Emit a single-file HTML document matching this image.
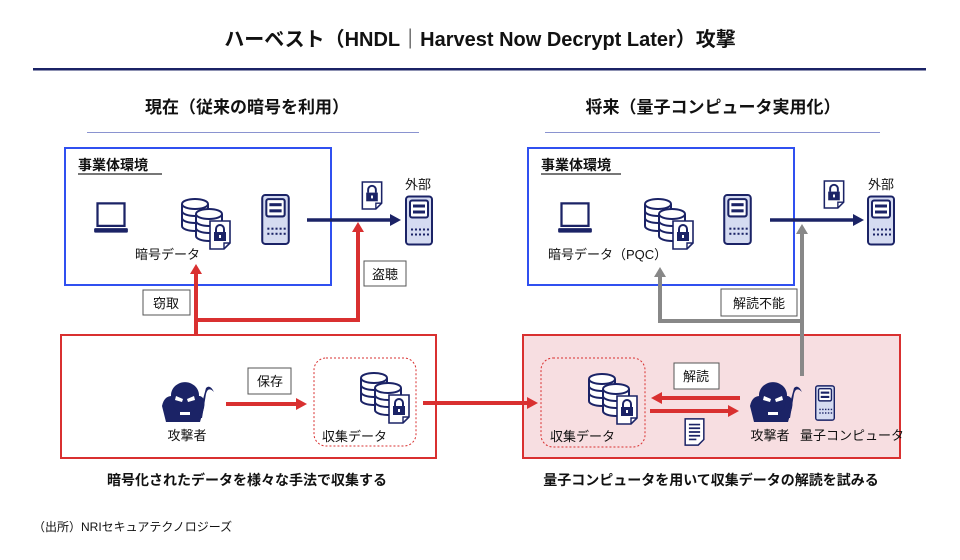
<!DOCTYPE html>
<html><head><meta charset="utf-8"><style>
html,body{margin:0;padding:0;background:#fff}
svg{display:block;font-family:"Liberation Sans","Noto Sans CJK JP",sans-serif}
</style></head><body>
<svg width="960" height="560" viewBox="0 0 960 560" xmlns="http://www.w3.org/2000/svg">
<defs>
<symbol id="srv" viewBox="0 0 28 50">
<rect x="1" y="1" width="26" height="48" rx="3" fill="#d5dbf1" stroke="#1b2366" stroke-width="2"/>
<rect x="5" y="5" width="18" height="17" rx="2" fill="#fff" stroke="#1b2366" stroke-width="2"/>
<rect x="8" y="9" width="12" height="3" fill="#1b2366"/><rect x="8" y="15" width="12" height="3" fill="#1b2366"/>
<g fill="#1b2366"><rect x="6" y="33" width="2" height="2"/><rect x="10" y="33" width="2" height="2"/><rect x="14" y="33" width="2" height="2"/><rect x="18" y="33" width="2" height="2"/><rect x="22" y="33" width="2" height="2"/>
<rect x="6" y="38" width="2" height="2"/><rect x="10" y="38" width="2" height="2"/><rect x="14" y="38" width="2" height="2"/><rect x="18" y="38" width="2" height="2"/><rect x="22" y="38" width="2" height="2"/></g>
</symbol>
<symbol id="cyl" viewBox="0 0 28 34">
<path d="M1 6 V28 A13 5 0 0 0 27 28 V6" fill="#fff" stroke="#1b2366" stroke-width="2"/>
<ellipse cx="14" cy="6" rx="13" ry="5" fill="#fff" stroke="#1b2366" stroke-width="2"/>
<path d="M1 13 A13 5 0 0 0 27 13 M1 20 A13 5 0 0 0 27 20" fill="none" stroke="#1b2366" stroke-width="2"/>
</symbol>
<symbol id="lockdoc" viewBox="0 0 22 30">
<path d="M1 1 H21 V23 L15 29 H1 Z" fill="#fff" stroke="#1b2366" stroke-width="1.6"/>
<path d="M15 29 V23 H21" fill="none" stroke="#1b2366" stroke-width="1.4"/>
<path d="M7 12 V9 A4 4 0 0 1 15 9 V12" fill="none" stroke="#1b2366" stroke-width="2"/>
<rect x="5" y="12" width="12" height="9" fill="#1b2366"/><rect x="10" y="15" width="2" height="3" fill="#fff"/>
</symbol>
<symbol id="db" viewBox="0 0 50 52">
<use href="#cyl" x="0" y="0" width="28" height="34"/>
<use href="#cyl" x="14" y="10" width="28" height="34"/>
<use href="#lockdoc" x="28" y="22" width="22" height="30"/>
</symbol>
<symbol id="laptop" viewBox="0 0 32 30">
<rect x="4" y="2" width="24" height="20" fill="#fff" stroke="#1b2366" stroke-width="2"/>
<rect x="1" y="24" width="30" height="4" rx="1" fill="#1b2366"/>
</symbol>
<symbol id="atk" viewBox="0 0 54 40">
<path d="M2 24 Q4 14 12 14 L40 14 Q46 16 44 26 L40 40 H6 Z" fill="#1b2366"/>
<path d="M12 18 A14 13 0 1 1 38 18 L36 26 L32 30 V36 H18 V30 L14 26 Z" fill="#1b2366"/>
<path d="M16 14 L23 17 L22 20 L15 18Z M34 14 L27 17 L28 20 L35 18Z" fill="#fff"/>
<rect x="20" y="30" width="10" height="3" fill="#fff"/>
<path d="M38 36 L46 6 Q50 2 54 10 Q48 4 46 12 L42 36Z" fill="#1b2366"/>
</symbol>
<symbol id="doc" viewBox="0 0 22 30">
<path d="M1 1 H21 V23 L15 29 H1 Z" fill="#fff" stroke="#1b2366" stroke-width="1.6"/>
<g stroke="#1b2366" stroke-width="1.8"><path d="M5 7H17M5 11H17M5 15H17M5 19H17M5 23H13"/></g>
</symbol>
</defs>

<text x="480" y="46" text-anchor="middle" font-size="20" font-weight="bold" fill="#111">ハーベスト（HNDL｜Harvest Now Decrypt Later）攻撃</text>
<rect x="33" y="68" width="893" height="2.5" fill="#1b2366"/>

<text x="247" y="113" text-anchor="middle" font-size="17" font-weight="bold" fill="#111">現在（従来の暗号を利用）</text>
<rect x="87" y="132" width="332" height="1" fill="#8a93d0"/>
<text x="713" y="113" text-anchor="middle" font-size="17" font-weight="bold" fill="#111">将来（量子コンピュータ実用化）</text>
<rect x="545" y="132" width="335" height="1" fill="#8a93d0"/>

<!-- left -->
<rect x="65" y="148" width="266" height="137" fill="#fff" stroke="#3050f0" stroke-width="2"/>
<text x="78" y="170" font-size="14" font-weight="bold" fill="#111">事業体環境</text>
<rect x="78" y="173" width="84" height="2" fill="#777"/>
<use href="#laptop" x="93" y="201" width="36" height="34"/>
<use href="#db" x="181" y="198" width="50" height="52"/>
<text x="135" y="259" font-size="13" fill="#111">暗号データ</text>
<use href="#srv" x="261" y="194" width="29" height="51"/>
<path d="M307 220 H392" stroke="#1b2366" stroke-width="3.5"/><path d="M390 214 L401 220 L390 226Z" fill="#1b2366"/>
<use href="#lockdoc" x="361" y="181" width="22" height="29"/>
<text x="405" y="189" font-size="13" fill="#111">外部</text>
<use href="#srv" x="405" y="195" width="28" height="51"/>

<g fill="none" stroke="#d93030" stroke-width="4">
<path d="M196 375 V272"/><path d="M196 320 H358 V230"/></g>
<path d="M190 274 L196 264 L202 274Z M352 232 L358 222 L364 232Z" fill="#d93030"/>
<rect x="143" y="290" width="47" height="25" fill="#fff" stroke="#555"/><text x="166" y="308" text-anchor="middle" font-size="13" fill="#111">窃取</text>
<rect x="364" y="261" width="42" height="25" fill="#fff" stroke="#555"/><text x="385" y="279" text-anchor="middle" font-size="13" fill="#111">盗聴</text>

<rect x="61" y="335" width="375" height="123" fill="#fff" stroke="#d93030" stroke-width="2"/>
<use href="#atk" x="160" y="382" width="54" height="40"/>
<text x="187" y="440" text-anchor="middle" font-size="13" fill="#111">攻撃者</text>
<path d="M226 404 H298" stroke="#d93030" stroke-width="4"/><path d="M296 398 L307 404 L296 410Z" fill="#d93030"/>
<rect x="248" y="368" width="43" height="26" fill="#fff" stroke="#555"/><text x="270" y="386" text-anchor="middle" font-size="13" fill="#111">保存</text>
<rect x="314" y="358" width="102" height="88" rx="12" fill="#fff" stroke="#d93030" stroke-dasharray="2 2"/>
<use href="#db" x="360" y="372" width="50" height="52"/>
<text x="322" y="441" font-size="13" fill="#111">収集データ</text>

<!-- right -->
<rect x="528" y="148" width="266" height="137" fill="#fff" stroke="#3050f0" stroke-width="2"/>
<text x="541" y="170" font-size="14" font-weight="bold" fill="#111">事業体環境</text>
<rect x="541" y="173" width="80" height="2" fill="#777"/>
<use href="#laptop" x="557" y="201" width="36" height="34"/>
<use href="#db" x="644" y="198" width="50" height="52"/>
<text x="548" y="259" font-size="13" fill="#111">暗号データ（PQC）</text>
<use href="#srv" x="723" y="194" width="29" height="51"/>
<path d="M770 220 H855" stroke="#1b2366" stroke-width="3.5"/><path d="M853 214 L864 220 L853 226Z" fill="#1b2366"/>
<use href="#lockdoc" x="823" y="180" width="22" height="29"/>
<text x="868" y="189" font-size="13" fill="#111">外部</text>
<use href="#srv" x="867" y="195" width="28" height="51"/>

<rect x="523" y="335" width="377" height="123" fill="#f7dee1" stroke="#d93030" stroke-width="2"/>
<path d="M423 403 H528" stroke="#d93030" stroke-width="4"/><path d="M527 397 L538 403 L527 409Z" fill="#d93030"/>
<g fill="none" stroke="#888" stroke-width="4"><path d="M802 376 V232"/><path d="M802 321 H660 V275"/></g>
<path d="M796 234 L802 224 L808 234Z M654 277 L660 267 L666 277Z" fill="#888"/>
<rect x="721" y="289" width="76" height="27" fill="#fff" stroke="#555"/><text x="759" y="308" text-anchor="middle" font-size="13" fill="#111">解読不能</text>

<rect x="541" y="358" width="104" height="89" rx="12" fill="#f7dee1" stroke="#d93030" stroke-dasharray="2 2"/>
<use href="#db" x="588" y="373" width="50" height="52"/>
<text x="550" y="441" font-size="13" fill="#111">収集データ</text>
<path d="M740 398 H660" stroke="#d93030" stroke-width="4"/><path d="M662 392 L651 398 L662 404Z" fill="#d93030"/>
<path d="M650 411 H730" stroke="#d93030" stroke-width="4"/><path d="M728 405 L739 411 L728 417Z" fill="#d93030"/>
<rect x="674" y="363" width="45" height="26" fill="#fff" stroke="#555"/><text x="696" y="381" text-anchor="middle" font-size="13" fill="#111">解読</text>
<use href="#doc" x="684" y="418" width="21" height="28"/>
<use href="#atk" x="748" y="382" width="54" height="40"/>
<text x="770" y="440" text-anchor="middle" font-size="13" fill="#111">攻撃者</text>
<use href="#srv" x="815" y="385" width="20" height="36"/>
<text x="800" y="440" font-size="13" fill="#111">量子コンピュータ</text>

<text x="247" y="485" text-anchor="middle" font-size="14" font-weight="bold" fill="#111">暗号化されたデータを様々な手法で収集する</text>
<text x="711" y="485" text-anchor="middle" font-size="14" font-weight="bold" fill="#111">量子コンピュータを用いて収集データの解読を試みる</text>
<text x="33" y="531" font-size="12" fill="#111">（出所）NRIセキュアテクノロジーズ</text>
</svg>
</body></html>
